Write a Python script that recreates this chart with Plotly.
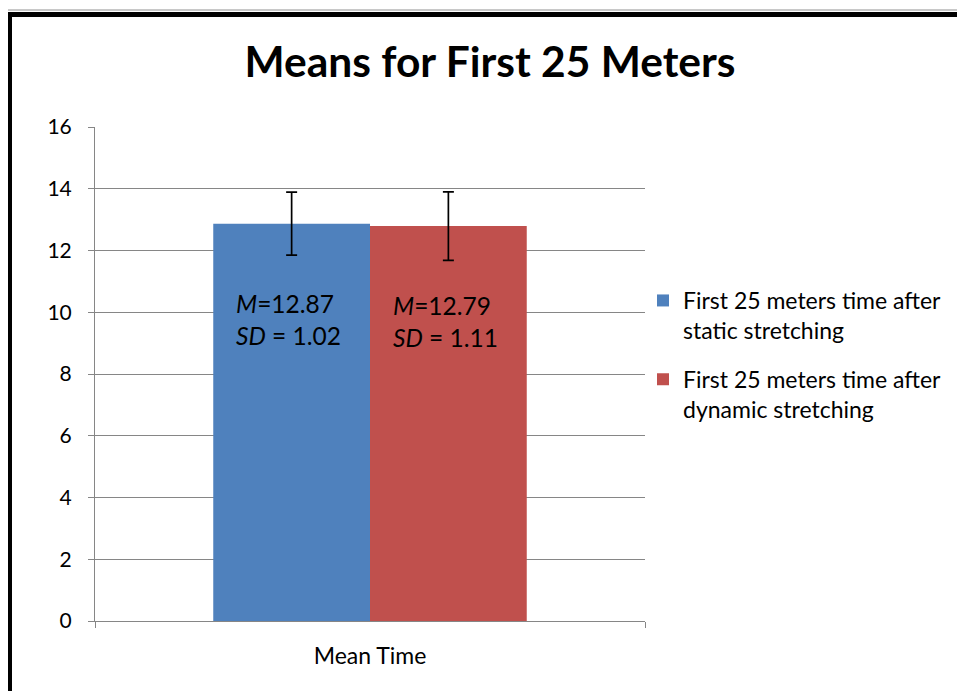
import plotly.graph_objects as go

categories = ["Mean Time"]
series_names = ["First 25 meters time after<br>static stretching",
                "First 25 meters time after<br>dynamic stretching"]
means = [12.87, 12.79]
sds = [1.02, 1.11]
colors = ["#4F81BD", "#C0504D"]
y_ticks = [0, 2, 4, 6, 8, 10, 12, 14, 16]

# page body has an 8px margin; figure size/coords account for it
W, H = 957, 683
L, R, T, B = 87, 320, 119, 70
pw, ph = W - L - R, H - T - B

def px_x(px):
    return (px - L) / pw

def px_y(py):
    return (H - B - py) / ph

FONT = "Lato, 'Open Sans', sans-serif"

fig = go.Figure()
for i, (name, m, s, c) in enumerate(zip(series_names, means, sds, colors)):
    fig.add_trace(go.Bar(
        x=categories, y=[m], name=name, legendgroup=f"g{i}",
        marker=dict(color=c, line=dict(width=0)),
        error_y=dict(type="data", array=[s], visible=True, color="black",
                     thickness=1.7, width=5.5),
    ))

shifts = [-82, 75]
for m, s, xs in zip(means, sds, shifts):
    fig.add_annotation(
        x=categories[0], y=m - 3.1, xref="x", yref="y", xshift=xs,
        text=f"<i>M</i>={m:.2f}<br><i>SD</i> = {s:.2f}",
        showarrow=False, align="left",
        font=dict(family=FONT, size=24.5, color="black"),
    )

# chart frame
fig.add_shape(type="line", xref="paper", yref="paper",
              x0=px_x(0), x1=px_x(W + 5), y0=px_y(2), y1=px_y(2),
              line=dict(color="#c8c8c8", width=2))
fig.add_shape(type="line", xref="paper", yref="paper",
              x0=px_x(0), x1=px_x(W + 5), y0=px_y(6.5), y1=px_y(6.5),
              line=dict(color="black", width=5))
fig.add_shape(type="line", xref="paper", yref="paper",
              x0=px_x(1.5), x1=px_x(1.5), y0=px_y(4), y1=px_y(H + 5),
              line=dict(color="black", width=5))

fig.update_layout(
    width=W, height=H,
    margin=dict(l=L, r=R, t=T, b=B, pad=0),
    paper_bgcolor="white", plot_bgcolor="white",
    barmode="group", bargap=0.43, bargroupgap=0,
    title=dict(text="<b>Means for First 25 Meters</b>", x=(482) / W,
               xanchor="center", y=1 - 54 / H, yanchor="middle",
               font=dict(family=FONT, size=42.5, color="black")),
    legend=dict(x=px_x(635), y=px_y(271), xanchor="left", yanchor="top",
                valign="top", traceorder="grouped",
                font=dict(family=FONT, size=23, color="black"),
                tracegroupgap=16, itemwidth=30, bgcolor="rgba(0,0,0,0)"),
    showlegend=True,
    font=dict(family=FONT, color="black"),
)
fig.update_yaxes(range=[0, 16], tickvals=y_ticks, showgrid=True, gridcolor="#868686",
                 gridwidth=1, showline=True, linecolor="#868686", linewidth=1,
                 ticks="outside", ticklen=6, tickcolor="#868686", ticklabelstandoff=12,
                 tickfont=dict(family=FONT, size=21, color="black"), zeroline=False)
fig.update_xaxes(showline=True, linecolor="#868686", linewidth=1, ticks="outside",
                 ticklen=6, tickcolor="#868686", tickson="boundaries",
                 ticklabelstandoff=14,
                 tickfont=dict(family=FONT, size=23, color="black"))

fig.write_html("out.html")
